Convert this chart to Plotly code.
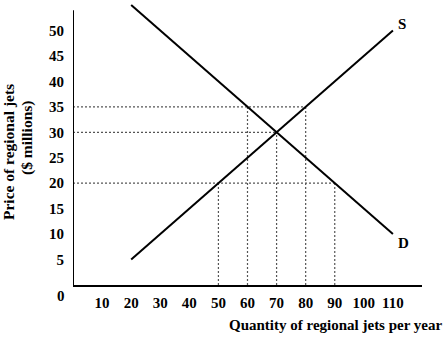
import plotly.graph_objects as go

# Data
supply_q = [20, 110]
supply_p = [5, 50]
demand_q = [20, 110]
demand_p = [55, 10]
h_levels = [35, 30, 20]          # price levels of horizontal guide lines
h_ends = [80, 70, 90]            # quantity where each horizontal guide ends
v_qty = [50, 60, 70, 80, 90]     # quantities of vertical guide lines
v_tops = [20, 35, 30, 35, 20]    # price where each vertical guide ends
x_ticks = [10, 20, 30, 40, 50, 60, 70, 80, 90, 100, 110]
y_ticks = [5, 10, 15, 20, 25, 30, 35, 40, 45, 50]

FONT = "Liberation Serif"

fig = go.Figure()

dot_style = dict(color="#555555", width=1.2, dash="2px,2px")
for lvl, end in zip(h_levels, h_ends):
    fig.add_trace(go.Scatter(x=[0, end], y=[lvl, lvl], mode="lines",
                             line=dot_style, hoverinfo="skip", showlegend=False))
for q, top in zip(v_qty, v_tops):
    fig.add_trace(go.Scatter(x=[q, q], y=[0, top], mode="lines",
                             line=dot_style, hoverinfo="skip", showlegend=False))

fig.add_trace(go.Scatter(x=supply_q, y=supply_p, mode="lines",
                         line=dict(color="black", width=2), showlegend=False))
fig.add_trace(go.Scatter(x=demand_q, y=demand_p, mode="lines",
                         line=dict(color="black", width=2), showlegend=False))

# y axis line (shorter than plot area)
fig.add_shape(type="line", x0=0, x1=0, y0=0, y1=54, xref="x", yref="y",
              line=dict(color="black", width=2))

fig.add_annotation(x=supply_q[-1], y=supply_p[-1], text="<b>S</b>", showarrow=False,
                   xanchor="left", yanchor="bottom", xshift=3, yshift=-3,
                   font=dict(family=FONT, size=15, color="black"))
fig.add_annotation(x=demand_q[-1], y=demand_p[-1], text="<b>D</b>", showarrow=False,
                   xanchor="left", yanchor="top", xshift=3, yshift=1,
                   font=dict(family=FONT, size=15, color="black"))
fig.add_annotation(x=0, y=0, text="<b>0</b>", showarrow=False,
                   xanchor="center", yanchor="middle", xshift=-12, yshift=-11,
                   font=dict(family=FONT, size=15, color="black"))
fig.add_annotation(xref="paper", yref="paper", x=0, y=0,
                   text="<b>Quantity of regional jets per year</b>", showarrow=False,
                   xanchor="center", yanchor="middle", xshift=263, yshift=-40,
                   font=dict(family=FONT, size=15, color="black"))
fig.add_annotation(xref="paper", yref="paper", x=0, y=0,
                   text="<b>Price of regional jets</b>", showarrow=False, textangle=-90,
                   xanchor="center", yanchor="middle", xshift=-65, yshift=133,
                   font=dict(family=FONT, size=15.5, color="black"))
fig.add_annotation(xref="paper", yref="paper", x=0, y=0,
                   text="<b>($ millions)</b>", showarrow=False, textangle=-90,
                   xanchor="center", yanchor="middle", xshift=-46, yshift=147,
                   font=dict(family=FONT, size=15.5, color="black"))

fig.update_layout(
    width=443, height=338,
    margin=dict(l=73, r=21, t=0, b=53),
    paper_bgcolor="white", plot_bgcolor="white",
    xaxis=dict(range=[0, 120], tickvals=x_ticks, ticktext=[f"<b>{v}</b>" for v in x_ticks],
               showgrid=False, zeroline=False, showline=True, linecolor="black",
               linewidth=2, ticks="", ticklabelstandoff=3,
               tickfont=dict(family=FONT, size=15, color="black")),
    yaxis=dict(range=[0, 56], tickvals=y_ticks, ticktext=[f"<b>{v}</b>" for v in y_ticks],
               showgrid=False, zeroline=False, showline=False, ticks="",
               ticklabelstandoff=8,
               tickfont=dict(family=FONT, size=15, color="black")),
)

fig.write_html("out.html")
